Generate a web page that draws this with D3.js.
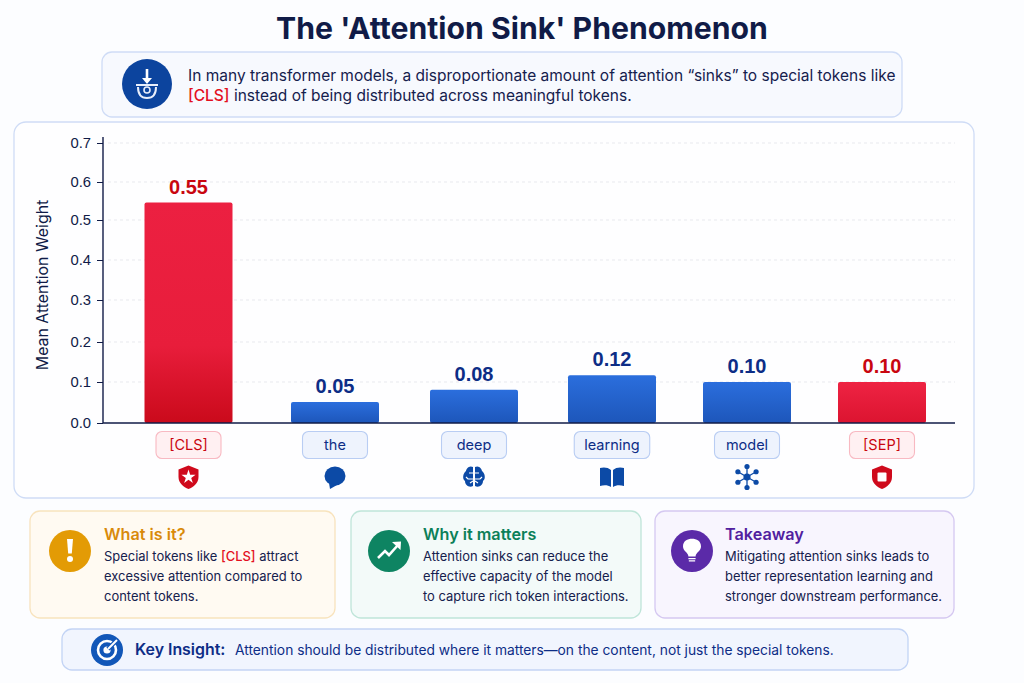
<!DOCTYPE html>
<html>
<head>
<meta charset="utf-8">
<script src="https://cdn.jsdelivr.net/npm/d3@7"></script>
<style>
  html, body { margin: 0; padding: 0; background: #fcfdff; }
  svg { display: block; font-family: Inter, "Noto Sans", sans-serif; }
</style>
</head>
<body>
<svg id="chart" width="1024" height="683"></svg>
<script>
// data
const tokens = ["[CLS]", "the", "deep", "learning", "model", "[SEP]"];
const weights = [0.546, 0.051, 0.081, 0.117, 0.1, 0.1];
const special = ["[CLS]", "[SEP]"];
const y_ticks = [0, 0.1, 0.2, 0.3, 0.4, 0.5, 0.6, 0.7];
const token_icons = ["shield_star", "bubble", "brain", "book", "network", "shield_square"];

const title = "The 'Attention Sink' Phenomenon";
const intro_lines = [
  [["In many transformer models, a disproportionate amount of attention \u201Csinks\u201D to special tokens like", 0]],
  [["[CLS]", 1], [" instead of being distributed across meaningful tokens.", 0]],
];
const card_titles = ["What is it?", "Why it matters", "Takeaway"];
const card_lines = [
  [[["Special tokens like ", 0], ["[CLS]", 1], [" attract", 0]], [["excessive attention compared to", 0]], [["content tokens.", 0]]],
  [[["Attention sinks can reduce the", 0]], [["effective capacity of the model", 0]], [["to capture rich token interactions.", 0]]],
  [[["Mitigating attention sinks leads to", 0]], [["better representation learning and", 0]], [["stronger downstream performance.", 0]]],
];
const insight_label = "Key Insight:";
const insight_text = "Attention should be distributed where it matters\u2014on the content, not just the special tokens.";

// layout
const bar_width = 88;
const bar_centers = [188.5, 335, 474, 612, 747, 882];
// the reference's tick spacing drifts slightly, so each tick has its own pixel row
const y_rows = [423, 382, 342, 300, 260, 220, 182, 143];
const cards_layout = [
  { x: 30, w: 305, text_x: 104, icon_x: 70, fill: "#fffaf2", stroke: "#f8e3bd", head: "#d98a0b", circle: "#e39b05" },
  { x: 351, w: 290, text_x: 423, icon_x: 389, fill: "#f3faf9", stroke: "#bfe5d9", head: "#0b8058", circle: "#0e8462" },
  { x: 655, w: 299, text_x: 725, icon_x: 692, fill: "#f8f5fe", stroke: "#d5c8f1", head: "#51209f", circle: "#5b2aa8" },
];
const col = {
  navy: "#101b47", text: "#15204d", red: "#e3101f", dark_red: "#c9060f",
  blue: "#0d2d86", panel: "#cfdcf6", grid: "#e8e9ee",
};

const svg = d3.select("#chart");
const defs = svg.append("defs");

function gradient(id, stops) {
  const g = defs.append("linearGradient").attr("id", id)
    .attr("x1", 0).attr("x2", 0).attr("y1", 0).attr("y2", 1);
  stops.forEach(function (s) {
    g.append("stop").attr("offset", s[0]).attr("stop-color", s[1]);
  });
}
gradient("grad_red_tall", [["0%", "#ec2041"], ["65%", "#e81d3b"], ["100%", "#ca0a1b"]]);
gradient("grad_red", [["0%", "#ee2343"], ["100%", "#dc1430"]]);
gradient("grad_blue", [["0%", "#2b6edd"], ["100%", "#1d56ba"]]);

function panel(x, y, w, h, r, fill, stroke) {
  return svg.append("rect")
    .attr("x", x).attr("y", y).attr("width", w).attr("height", h).attr("rx", r)
    .attr("fill", fill).attr("stroke", stroke).attr("stroke-width", 1.3);
}

// writes one line of text, runs flagged 1 are the red [CLS]
function rich_text(x, y, runs, size, fill) {
  const t = svg.append("text").attr("x", x).attr("y", y)
    .attr("font-size", size).attr("fill", fill);
  runs.forEach(function (r) {
    t.append("tspan").attr("xml:space", "preserve")
      .style("white-space", "pre")
      .attr("fill", r[1] ? col.red : fill)
      .attr("font-weight", r[1] ? 500 : 400)
      .text(r[0]);
  });
  return t;
}

/* HEADER */
svg.append("text").attr("x", 522).attr("y", 39)
  .attr("text-anchor", "middle").attr("font-size", 30.2).attr("font-weight", 700)
  .attr("fill", col.navy).text(title);

panel(102, 52, 800, 65, 10, "#f7f9fe", col.panel);

const head_icon = svg.append("g").attr("transform", "translate(147,84)");
head_icon.append("circle").attr("r", 25).attr("fill", "#0c449e");
head_icon.append("path").attr("d", "M-1.3,-15 h2.6 v9 h3.7 l-5,6 l-5,-6 h3.7 z").attr("fill", "#fff");
head_icon.append("path").attr("d", "M-11,1 h22 M-9,3 c0,9 4,11 9,11 c5,0 9,-2 9,-11")
  .attr("fill", "none").attr("stroke", "#e8eefb").attr("stroke-width", 2);
head_icon.append("circle").attr("cy", 6).attr("r", 3).attr("fill", "none").attr("stroke", "#e8eefb").attr("stroke-width", 1.6);

intro_lines.forEach(function (l, i) {
  rich_text(188, 81 + i * 20, l, 15.5, col.text);
});

/* CHART */
panel(14, 122, 960, 376, 12, "#fefeff", col.panel);

const x_scale = d3.scaleOrdinal().domain(tokens).range(bar_centers);
const y_scale = d3.scaleLinear().domain(y_ticks).range(y_rows);

// grid lines
svg.append("g").attr("class", "grid")
  .selectAll("line")
  .data(y_ticks.slice(1))
  .enter()
  .append("line")
  .attr("x1", 108).attr("x2", 955)
  .attr("y1", function (d) { return y_scale(d); })
  .attr("y2", function (d) { return y_scale(d); })
  .attr("stroke", col.grid).attr("stroke-dasharray", "3 3");

// bars
svg.append("g").attr("class", "bars")
  .selectAll("rect")
  .data(tokens)
  .enter()
  .append("rect")
  .attr("x", function (d) { return x_scale(d) - bar_width / 2; })
  .attr("y", function (d, i) { return y_scale(weights[i]); })
  .attr("width", bar_width)
  .attr("height", function (d, i) { return y_scale(0) - y_scale(weights[i]); })
  .attr("rx", 2)
  .attr("fill", function (d, i) {
    if (!special.includes(d)) return "url(#grad_blue)";
    return i == 0 ? "url(#grad_red_tall)" : "url(#grad_red)";
  });

// value labels
svg.append("g").attr("class", "values")
  .selectAll("text")
  .data(tokens)
  .enter()
  .append("text")
  .attr("x", function (d) { return x_scale(d); })
  .attr("y", function (d, i) { return y_scale(weights[i]) - 9; })
  .attr("text-anchor", "middle")
  .attr("font-family", "Liberation Sans")
  .attr("font-size", 20).attr("font-weight", 700)
  .attr("fill", function (d) { return special.includes(d) ? col.dark_red : col.blue; })
  .text(function (d, i) { return weights[i].toFixed(2); });

// y axis
const y_axis = svg.append("g").attr("class", "y_axis")
  .attr("transform", "translate(103,0)")
  .call(d3.axisLeft(y_scale).tickValues(y_ticks).tickFormat(d3.format(".1f")).tickSize(6).tickPadding(6));
y_axis.select(".domain").remove();
y_axis.selectAll("line").attr("stroke", col.navy);
y_axis.selectAll("text").attr("font-size", 14.8).attr("font-family", "Liberation Sans").attr("fill", col.navy);

svg.append("line").attr("x1", 103).attr("x2", 103).attr("y1", 137).attr("y2", y_scale(0))
  .attr("stroke", col.navy).attr("stroke-width", 1.4);
svg.append("line").attr("x1", 103).attr("x2", 955).attr("y1", y_scale(0)).attr("y2", y_scale(0))
  .attr("stroke", col.navy).attr("stroke-width", 1.4);

svg.append("text")
  .attr("transform", "translate(48,285) rotate(-90)")
  .attr("text-anchor", "middle").attr("font-size", 15.9).attr("fill", col.navy)
  .text("Mean Attention Weight");

// token pills
const pills = svg.append("g").attr("class", "pills")
  .selectAll("g")
  .data(tokens)
  .enter()
  .append("g")
  .attr("transform", function (d) { return "translate(" + x_scale(d) + ",445)"; });
const pill_rects = pills.append("rect")
  .attr("y", -13.5).attr("height", 27).attr("rx", 6).attr("stroke-width", 1.1)
  .attr("fill", function (d) { return special.includes(d) ? "#fff0f2" : "#eef3fd"; })
  .attr("stroke", function (d) { return special.includes(d) ? "#f8b9c2" : "#b9cdf3"; });
const pill_labels = pills.append("text")
  .attr("y", 5).attr("text-anchor", "middle").attr("font-size", 14.5).attr("font-weight", 400)
  .attr("fill", function (d) { return special.includes(d) ? col.dark_red : col.blue; })
  .text(function (d) { return d; });
pill_rects.each(function (d, i) {
  const w = Math.max(65, pill_labels.nodes()[i].getComputedTextLength() + 20);
  d3.select(this).attr("x", -w / 2).attr("width", w);
});

// token icons
const shield_path = "M0,-11.5 L10,-7.5 V0 C10,6 5,10 0,12 C-5,10 -10,6 -10,0 V-7.5 Z";
const star_path = d3.symbol().type(d3.symbolStar).size(62)();
const icon_draw = {
  shield_star: function (g) {
    g.append("path").attr("d", shield_path).attr("fill", "#cf0a1c");
    g.append("path").attr("d", star_path).attr("fill", "#fff");
  },
  shield_square: function (g) {
    g.append("path").attr("d", shield_path).attr("fill", "#cf0a1c");
    g.append("rect").attr("x", -4.5).attr("y", -4.5).attr("width", 9).attr("height", 9).attr("rx", 1).attr("fill", "#fff");
  },
  bubble: function (g) {
    g.append("ellipse").attr("rx", 10.5).attr("ry", 9.5).attr("cy", -1).attr("fill", "#0c4aa6");
    g.append("path").attr("d", "M-6,6 L-5,12 L2,8 Z").attr("fill", "#0c4aa6");
  },
  brain: function (g) {
    g.append("path").attr("d", "M-1,-10 C-5,-12 -8,-8 -8,-6 C-11,-4 -12,2 -9,4 C-9,8 -5,11 -1,9 Z M1,-10 C5,-12 8,-8 8,-6 C11,-4 12,2 9,4 C9,8 5,11 1,9 Z")
      .attr("fill", "#0c4aa6");
    g.append("path").attr("d", "M-1,-4 h-4 M-1,2 h-5 l-2,-2 M-4,6 l3,-2 M1,-4 h4 M1,2 h5 l2,-2 M4,6 l-3,-2")
      .attr("fill", "none").attr("stroke", "#fff").attr("stroke-width", 1.2);
  },
  book: function (g) {
    g.append("path").attr("d", "M-1,-7 C-4,-10 -9,-10 -12,-9 V9 C-8,8 -4,8 -1,10 Z M1,-7 C4,-10 9,-10 12,-9 V9 C8,8 4,8 1,10 Z")
      .attr("fill", "#0c4aa6");
  },
  network: function (g) {
    d3.range(6).forEach(function (k) {
      const a = (k * Math.PI) / 3 - Math.PI / 2;
      const px = 10.5 * Math.cos(a);
      const py = 10.5 * Math.sin(a);
      g.append("line").attr("x2", px).attr("y2", py).attr("stroke", "#0c4aa6").attr("stroke-width", 1.3);
      g.append("circle").attr("cx", px).attr("cy", py).attr("r", 2.6).attr("fill", "#0c4aa6");
    });
    g.append("circle").attr("r", 3.6).attr("fill", "#0c4aa6");
  },
};
tokens.forEach(function (d, i) {
  const g = svg.append("g").attr("transform", "translate(" + x_scale(d) + ",477)");
  icon_draw[token_icons[i]](g);
});

/* CARDS */
const card_icons = [
  function (g) {
    g.append("path").attr("d", "M-3,-12 h6 l-1.2,14.5 h-3.6 z").attr("fill", "#fff");
    g.append("circle").attr("cy", 8).attr("r", 3).attr("fill", "#fff");
  },
  function (g) {
    g.append("path").attr("d", "M-11,7 L-4,0 L0,4 L9,-6").attr("fill", "none").attr("stroke", "#fff").attr("stroke-width", 2.6);
    g.append("path").attr("d", "M3,-9 L12,-9.5 L11.5,-1 Z").attr("fill", "#fff");
  },
  function (g) {
    g.attr("transform", g.attr("transform") + " scale(0.9)");
    g.select("circle").attr("r", 21 / 0.9);
    g.append("path").attr("d", "M-4,6 C-4,2 -10,0 -10,-5 C-10,-11 -5,-13.5 0,-13.5 C5,-13.5 10,-11 10,-5 C10,0 4,2 4,6 Z").attr("fill", "#fff");
    g.append("path").attr("d", "M-4,8.5 h8 M-3.5,11 h7").attr("stroke", "#fff").attr("stroke-width", 1.6);
  },
];
cards_layout.forEach(function (c, i) {
  panel(c.x, 511, c.w, 107, 10, c.fill, c.stroke);
  const g = svg.append("g").attr("transform", "translate(" + c.icon_x + ",551)");
  g.append("circle").attr("r", 21).attr("fill", c.circle);
  card_icons[i](g);
  svg.append("text").attr("x", c.text_x).attr("y", 540)
    .attr("font-size", 16.2).attr("font-weight", 600).attr("fill", c.head)
    .text(card_titles[i]);
  card_lines[i].forEach(function (l, j) {
    rich_text(c.text_x, 561 + j * 20, l, 12.95, col.text);
  });
});

/* KEY INSIGHT */
panel(62, 629, 846, 41, 10, "#f1f5fe", "#c3d4f5");
const target = svg.append("g").attr("transform", "translate(107,650)");
target.append("circle").attr("r", 16).attr("fill", "#1257b8");
target.append("circle").attr("r", 9).attr("fill", "none").attr("stroke", "#fff").attr("stroke-width", 2.6);
target.append("circle").attr("r", 3.6).attr("fill", "#fff");
target.append("path").attr("d", "M1,-1 L10,-10").attr("stroke", "#1257b8").attr("stroke-width", 4.5);
target.append("path").attr("d", "M1,-1 L10,-10").attr("stroke", "#fff").attr("stroke-width", 2);

svg.append("text").attr("x", 135).attr("y", 655)
  .attr("font-size", 15.9).attr("font-weight", 600).attr("fill", col.blue)
  .text(insight_label);
svg.append("text").attr("x", 235).attr("y", 655)
  .attr("font-size", 13.8).attr("fill", col.blue)
  .text(insight_text);
</script>
</body>
</html>
